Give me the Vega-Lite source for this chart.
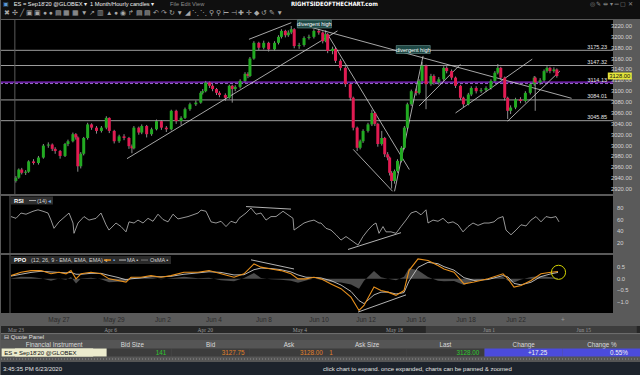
{
"$schema": "https://vega.github.io/schema/vega-lite/v6.json",
"background": "#5a5a5a",
"padding": 0,
"spacing": 0,
"config": {"view": {"stroke": null}, "font": "Liberation Sans"},
"datasets": {
"candles": [
{"t":0,"o":2935,"c":2941,"hi":2944,"lo":2932},{"t":3,"o":2941,"c":2956,"hi":2958,"lo":2939},{"t":6,"o":2956,"c":2950,"hi":2959,"lo":2947},{"t":10,"o":2950,"c":2952,"hi":2955,"lo":2946},{"t":13,"o":2952,"c":2971,"hi":2973,"lo":2950},{"t":18,"o":2971,"c":2968,"hi":2975,"lo":2965},{"t":23,"o":2968,"c":2978,"hi":2981,"lo":2965},{"t":28,"o":2978,"c":3000,"hi":3003,"lo":2976},{"t":33,"o":3000,"c":3002,"hi":3006,"lo":2996},{"t":37,"o":3002,"c":2994,"hi":3004,"lo":2990},{"t":40,"o":2994,"c":2990,"hi":2997,"lo":2985},{"t":45,"o":2990,"c":2981,"hi":2992,"lo":2976},{"t":50,"o":2981,"c":3003,"hi":3005,"lo":2979},{"t":53,"o":3003,"c":3008,"hi":3011,"lo":2999},{"t":58,"o":3008,"c":3021,"hi":3024,"lo":3006},{"t":61,"o":3021,"c":3015,"hi":3023,"lo":3011},{"t":63,"o":3015,"c":2962,"hi":3017,"lo":2952},{"t":66,"o":2962,"c":2985,"hi":2988,"lo":2958},{"t":69,"o":2985,"c":3014,"hi":3016,"lo":2982},{"t":73,"o":3014,"c":3039,"hi":3042,"lo":3011},{"t":77,"o":3039,"c":3033,"hi":3041,"lo":3029},{"t":82,"o":3033,"c":3027,"hi":3036,"lo":3022},{"t":87,"o":3027,"c":3033,"hi":3036,"lo":3024},{"t":92,"o":3033,"c":3051,"hi":3054,"lo":3030},{"t":95,"o":3051,"c":3027,"hi":3052,"lo":3023},{"t":100,"o":3027,"c":3008,"hi":3029,"lo":3004},{"t":105,"o":3008,"c":3017,"hi":3020,"lo":3005},{"t":110,"o":3017,"c":3014,"hi":3021,"lo":3010},{"t":115,"o":3014,"c":2999,"hi":3016,"lo":2994},{"t":118,"o":2999,"c":2995,"hi":3002,"lo":2986},{"t":120,"o":2995,"c":3033,"hi":3036,"lo":2993},{"t":125,"o":3033,"c":3024,"hi":3035,"lo":3020},{"t":128,"o":3024,"c":3036,"hi":3039,"lo":3021},{"t":133,"o":3036,"c":3021,"hi":3038,"lo":3015},{"t":138,"o":3021,"c":3030,"hi":3033,"lo":3018},{"t":143,"o":3030,"c":3045,"hi":3048,"lo":3028},{"t":148,"o":3045,"c":3033,"hi":3047,"lo":3029},{"t":153,"o":3033,"c":3030,"hi":3036,"lo":3025},{"t":158,"o":3030,"c":3064,"hi":3066,"lo":3028},{"t":163,"o":3064,"c":3045,"hi":3066,"lo":3040},{"t":168,"o":3045,"c":3051,"hi":3054,"lo":3038},{"t":172,"o":3051,"c":3067,"hi":3070,"lo":3049},{"t":177,"o":3067,"c":3076,"hi":3079,"lo":3064},{"t":183,"o":3076,"c":3079,"hi":3083,"lo":3073},{"t":188,"o":3079,"c":3097,"hi":3100,"lo":3077},{"t":190,"o":3097,"c":3100,"hi":3104,"lo":3094},{"t":193,"o":3100,"c":3116,"hi":3119,"lo":3098},{"t":197,"o":3116,"c":3110,"hi":3118,"lo":3106},{"t":200,"o":3110,"c":3104,"hi":3113,"lo":3100},{"t":204,"o":3104,"c":3097,"hi":3106,"lo":3093},{"t":207,"o":3097,"c":3093,"hi":3100,"lo":3089},{"t":213,"o":3093,"c":3088,"hi":3096,"lo":3082},{"t":217,"o":3088,"c":3110,"hi":3112,"lo":3086},{"t":220,"o":3110,"c":3104,"hi":3112,"lo":3079},{"t":223,"o":3104,"c":3108,"hi":3111,"lo":3100},{"t":228,"o":3108,"c":3119,"hi":3122,"lo":3105},{"t":233,"o":3119,"c":3132,"hi":3135,"lo":3116},{"t":236,"o":3132,"c":3128,"hi":3135,"lo":3124},{"t":238,"o":3128,"c":3160,"hi":3163,"lo":3126},{"t":242,"o":3160,"c":3189,"hi":3192,"lo":3158},{"t":247,"o":3189,"c":3180,"hi":3191,"lo":3176},{"t":252,"o":3180,"c":3189,"hi":3193,"lo":3177},{"t":257,"o":3189,"c":3177,"hi":3191,"lo":3173},{"t":263,"o":3177,"c":3189,"hi":3192,"lo":3175},{"t":267,"o":3189,"c":3200,"hi":3203,"lo":3186},{"t":270,"o":3200,"c":3211,"hi":3214,"lo":3197},{"t":274,"o":3211,"c":3203,"hi":3213,"lo":3199},{"t":277,"o":3203,"c":3208,"hi":3212,"lo":3200},{"t":280,"o":3208,"c":3214,"hi":3220,"lo":3205},{"t":283,"o":3214,"c":3183,"hi":3216,"lo":3179},{"t":288,"o":3183,"c":3185,"hi":3189,"lo":3178},{"t":293,"o":3185,"c":3198,"hi":3201,"lo":3182},{"t":298,"o":3198,"c":3200,"hi":3204,"lo":3195},{"t":303,"o":3200,"c":3211,"hi":3214,"lo":3197},{"t":308,"o":3211,"c":3208,"hi":3214,"lo":3204},{"t":312,"o":3208,"c":3192,"hi":3210,"lo":3188},{"t":315,"o":3192,"c":3205,"hi":3212,"lo":3190},{"t":317,"o":3205,"c":3174,"hi":3207,"lo":3170},{"t":322,"o":3174,"c":3178,"hi":3182,"lo":3168},{"t":325,"o":3178,"c":3156,"hi":3180,"lo":3152},{"t":330,"o":3156,"c":3143,"hi":3159,"lo":3138},{"t":335,"o":3143,"c":3113,"hi":3146,"lo":3108},{"t":340,"o":3113,"c":3088,"hi":3116,"lo":3083},{"t":343,"o":3088,"c":3033,"hi":3090,"lo":3028},{"t":347,"o":3033,"c":2996,"hi":3035,"lo":2990},{"t":350,"o":2996,"c":3008,"hi":3011,"lo":2993},{"t":353,"o":3008,"c":3027,"hi":3030,"lo":3005},{"t":358,"o":3027,"c":3039,"hi":3042,"lo":3024},{"t":362,"o":3039,"c":3060,"hi":3066,"lo":3036},{"t":365,"o":3060,"c":3040,"hi":3062,"lo":3036},{"t":368,"o":3040,"c":3003,"hi":3042,"lo":2998},{"t":372,"o":3003,"c":3014,"hi":3027,"lo":3000},{"t":375,"o":3014,"c":2984,"hi":3016,"lo":2979},{"t":378,"o":2984,"c":2978,"hi":2988,"lo":2973},{"t":380,"o":2978,"c":2950,"hi":2980,"lo":2945},{"t":382,"o":2950,"c":2935,"hi":2953,"lo":2921},{"t":385,"o":2935,"c":2953,"hi":2956,"lo":2930},{"t":388,"o":2953,"c":2972,"hi":2975,"lo":2950},{"t":392,"o":2972,"c":2996,"hi":2999,"lo":2969},{"t":395,"o":2996,"c":3033,"hi":3036,"lo":2993},{"t":398,"o":3033,"c":3076,"hi":3079,"lo":3030},{"t":402,"o":3076,"c":3100,"hi":3103,"lo":3073},{"t":407,"o":3100,"c":3097,"hi":3105,"lo":3092},{"t":410,"o":3097,"c":3119,"hi":3122,"lo":3094},{"t":413,"o":3119,"c":3147,"hi":3154,"lo":3116},{"t":417,"o":3147,"c":3113,"hi":3149,"lo":3067},{"t":422,"o":3113,"c":3128,"hi":3132,"lo":3110},{"t":425,"o":3128,"c":3116,"hi":3131,"lo":3112},{"t":430,"o":3116,"c":3122,"hi":3126,"lo":3112},{"t":435,"o":3122,"c":3143,"hi":3146,"lo":3119},{"t":438,"o":3143,"c":3137,"hi":3146,"lo":3133},{"t":443,"o":3137,"c":3125,"hi":3140,"lo":3121},{"t":447,"o":3125,"c":3110,"hi":3127,"lo":3106},{"t":452,"o":3110,"c":3088,"hi":3112,"lo":3084},{"t":455,"o":3088,"c":3076,"hi":3090,"lo":3071},{"t":460,"o":3076,"c":3094,"hi":3097,"lo":3074},{"t":463,"o":3094,"c":3106,"hi":3109,"lo":3091},{"t":468,"o":3106,"c":3100,"hi":3109,"lo":3096},{"t":473,"o":3100,"c":3102,"hi":3106,"lo":3097},{"t":478,"o":3102,"c":3106,"hi":3109,"lo":3099},{"t":483,"o":3106,"c":3119,"hi":3122,"lo":3103},{"t":487,"o":3119,"c":3134,"hi":3137,"lo":3116},{"t":490,"o":3134,"c":3143,"hi":3150,"lo":3131},{"t":493,"o":3143,"c":3125,"hi":3145,"lo":3121},{"t":497,"o":3125,"c":3088,"hi":3127,"lo":3083},{"t":500,"o":3088,"c":3064,"hi":3090,"lo":3049},{"t":503,"o":3064,"c":3070,"hi":3074,"lo":3058},{"t":508,"o":3070,"c":3085,"hi":3088,"lo":3067},{"t":513,"o":3085,"c":3082,"hi":3089,"lo":3078},{"t":518,"o":3082,"c":3097,"hi":3100,"lo":3079},{"t":523,"o":3097,"c":3113,"hi":3116,"lo":3094},{"t":527,"o":3113,"c":3125,"hi":3128,"lo":3110},{"t":528,"o":3125,"c":3116,"hi":3127,"lo":3064},{"t":533,"o":3116,"c":3120,"hi":3124,"lo":3112},{"t":537,"o":3120,"c":3137,"hi":3140,"lo":3117},{"t":540,"o":3137,"c":3143,"hi":3146,"lo":3134},{"t":543,"o":3143,"c":3137,"hi":3145,"lo":3133},{"t":547,"o":3137,"c":3140,"hi":3144,"lo":3134},{"t":550,"o":3140,"c":3128,"hi":3142,"lo":3125}
],
"levels": [{"p":3175.23},{"p":3147.32},{"p":3114.13},{"p":3084.01},{"p":3045.85}],
"pticks": [{"p":2920},{"p":2940},{"p":2960},{"p":2980},{"p":3000},{"p":3020},{"p":3040},{"p":3060},{"p":3080},{"p":3100},{"p":3120},{"p":3140},{"p":3160},{"p":3180},{"p":3200},{"p":3220}],
"tlines": [
{"t1":113,"p1":2976,"t2":327,"p2":3211},{"t1":237,"p1":3195.5,"t2":280,"p2":3226},{"t1":293,"p1":3221,"t2":565,"p2":3087},{"t1":318,"p1":3201.6,"t2":400,"p2":2956},{"t1":343,"p1":2993,"t2":383,"p2":2916},{"t1":385,"p1":2916,"t2":414,"p2":3165},{"t1":410,"p1":3073,"t2":452,"p2":3149.5},{"t1":447,"p1":3060,"t2":525,"p2":3159},{"t1":500,"p1":3045,"t2":553,"p2":3137}
],
"notes": [{"t":303.5,"p":3223.6,"txt":"divergent high"},{"t":404,"p":3176.7,"txt":"divergent high"}],
"rsi": [
{"t":0,"r":65},{"t":5,"r":62},{"t":10,"r":71},{"t":15,"r":69},{"t":22,"r":74},{"t":27,"r":76.5},{"t":32,"r":74},{"t":37,"r":71},{"t":40,"r":59},{"t":43,"r":45},{"t":48,"r":56},{"t":52,"r":62},{"t":58,"r":71},{"t":62,"r":54},{"t":63,"r":36.5},{"t":67,"r":54},{"t":73,"r":65},{"t":78,"r":59},{"t":85,"r":62},{"t":90,"r":71},{"t":95,"r":51},{"t":98,"r":42},{"t":105,"r":54},{"t":110,"r":48},{"t":115,"r":39},{"t":118,"r":56},{"t":123,"r":54},{"t":127,"r":59},{"t":132,"r":54},{"t":137,"r":62},{"t":142,"r":57},{"t":147,"r":69},{"t":152,"r":60},{"t":157,"r":56},{"t":162,"r":69},{"t":167,"r":61},{"t":172,"r":63},{"t":177,"r":65},{"t":182,"r":68},{"t":187,"r":71},{"t":190,"r":76},{"t":195,"r":74},{"t":200,"r":56},{"t":205,"r":54},{"t":210,"r":57},{"t":215,"r":48},{"t":220,"r":57},{"t":225,"r":54},{"t":228,"r":62},{"t":235,"r":71},{"t":240,"r":79.5},{"t":245,"r":69},{"t":250,"r":71},{"t":255,"r":59},{"t":260,"r":65},{"t":265,"r":65},{"t":272,"r":74},{"t":277,"r":68},{"t":282,"r":62},{"t":283,"r":42},{"t":288,"r":48},{"t":293,"r":54},{"t":298,"r":57},{"t":303,"r":59},{"t":308,"r":54},{"t":310,"r":54},{"t":315,"r":45},{"t":320,"r":42},{"t":325,"r":34},{"t":330,"r":25},{"t":335,"r":31},{"t":340,"r":25},{"t":347,"r":16.5},{"t":352,"r":31},{"t":357,"r":42},{"t":362,"r":51},{"t":365,"r":54},{"t":368,"r":36.5},{"t":372,"r":48},{"t":375,"r":39},{"t":380,"r":39},{"t":385,"r":36.5},{"t":390,"r":48},{"t":395,"r":59},{"t":400,"r":71},{"t":405,"r":74},{"t":410,"r":68},{"t":415,"r":76.5},{"t":417,"r":54},{"t":422,"r":59},{"t":427,"r":57},{"t":432,"r":62},{"t":437,"r":54},{"t":442,"r":56},{"t":447,"r":51},{"t":452,"r":39},{"t":457,"r":48},{"t":462,"r":54},{"t":467,"r":50},{"t":473,"r":54},{"t":478,"r":54},{"t":483,"r":56},{"t":487,"r":62},{"t":492,"r":65},{"t":495,"r":42},{"t":500,"r":34},{"t":505,"r":42},{"t":510,"r":51},{"t":515,"r":49},{"t":520,"r":59},{"t":525,"r":65},{"t":530,"r":56},{"t":535,"r":65},{"t":540,"r":63},{"t":545,"r":65},{"t":548,"r":56}
],
"rticks": [{"r":20},{"r":40},{"r":60},{"r":80}],
"rsilines": [{"t1":235,"r1":82,"t2":280,"r2":77.7},{"t1":337,"r1":9,"t2":390,"r2":37.6}],
"ppo": [
{"t":0,"ppo":0.14,"sig":0.12,"hist":0.02},{"t":10,"ppo":0.29,"sig":0.2,"hist":0.09},{"t":20,"ppo":0.36,"sig":0.28,"hist":0.08},{"t":30,"ppo":0.36,"sig":0.33,"hist":0.03},{"t":40,"ppo":0.22,"sig":0.3,"hist":-0.08},{"t":48,"ppo":0.29,"sig":0.28,"hist":0.01},{"t":55,"ppo":0.22,"sig":0.26,"hist":-0.04},{"t":60,"ppo":0.36,"sig":0.28,"hist":0.08},{"t":65,"ppo":0.0,"sig":0.2,"hist":-0.2},{"t":70,"ppo":0.22,"sig":0.2,"hist":0.02},{"t":80,"ppo":0.29,"sig":0.24,"hist":0.05},{"t":90,"ppo":0.22,"sig":0.24,"hist":-0.02},{"t":98,"ppo":0.0,"sig":0.15,"hist":-0.15},{"t":107,"ppo":-0.07,"sig":0.06,"hist":-0.13},{"t":115,"ppo":-0.14,"sig":-0.04,"hist":-0.1},{"t":120,"ppo":0.07,"sig":0.0,"hist":0.07},{"t":130,"ppo":0.07,"sig":0.04,"hist":0.03},{"t":140,"ppo":0.14,"sig":0.09,"hist":0.05},{"t":150,"ppo":0.07,"sig":0.09,"hist":-0.02},{"t":160,"ppo":0.14,"sig":0.11,"hist":0.03},{"t":173,"ppo":0.29,"sig":0.2,"hist":0.09},{"t":187,"ppo":0.29,"sig":0.26,"hist":0.03},{"t":198,"ppo":0.36,"sig":0.31,"hist":0.05},{"t":210,"ppo":0.22,"sig":0.28,"hist":-0.06},{"t":223,"ppo":0.07,"sig":0.17,"hist":-0.1},{"t":233,"ppo":0.22,"sig":0.18,"hist":0.04},{"t":243,"ppo":0.65,"sig":0.4,"hist":0.25},{"t":250,"ppo":0.51,"sig":0.47,"hist":0.04},{"t":260,"ppo":0.43,"sig":0.45,"hist":-0.02},{"t":270,"ppo":0.36,"sig":0.4,"hist":-0.04},{"t":280,"ppo":0.22,"sig":0.3,"hist":-0.08},{"t":287,"ppo":0.0,"sig":0.17,"hist":-0.17},{"t":295,"ppo":0.0,"sig":0.07,"hist":-0.07},{"t":303,"ppo":0.07,"sig":0.06,"hist":0.01},{"t":310,"ppo":0.0,"sig":0.04,"hist":-0.04},{"t":320,"ppo":-0.22,"sig":-0.08,"hist":-0.14},{"t":330,"ppo":-0.43,"sig":-0.27,"hist":-0.16},{"t":340,"ppo":-0.8,"sig":-0.55,"hist":-0.25},{"t":348,"ppo":-1.38,"sig":-0.95,"hist":-0.43},{"t":353,"ppo":-1.16,"sig":-1.08,"hist":-0.08},{"t":363,"ppo":-0.36,"sig":-0.7,"hist":0.34},{"t":370,"ppo":-0.51,"sig":-0.58,"hist":0.07},{"t":377,"ppo":-0.58,"sig":-0.58,"hist":0.0},{"t":385,"ppo":-0.72,"sig":-0.66,"hist":-0.06},{"t":393,"ppo":-0.51,"sig":-0.6,"hist":0.09},{"t":398,"ppo":0.36,"sig":-0.1,"hist":0.46},{"t":407,"ppo":0.87,"sig":0.5,"hist":0.37},{"t":417,"ppo":0.8,"sig":0.72,"hist":0.08},{"t":427,"ppo":0.58,"sig":0.66,"hist":-0.08},{"t":433,"ppo":0.43,"sig":0.53,"hist":-0.1},{"t":443,"ppo":0.29,"sig":0.38,"hist":-0.09},{"t":453,"ppo":-0.22,"sig":0.05,"hist":-0.27},{"t":463,"ppo":-0.14,"sig":-0.07,"hist":-0.07},{"t":477,"ppo":0.0,"sig":-0.03,"hist":0.03},{"t":492,"ppo":0.22,"sig":0.14,"hist":0.08},{"t":497,"ppo":0.0,"sig":0.08,"hist":-0.08},{"t":503,"ppo":-0.36,"sig":-0.2,"hist":-0.16},{"t":510,"ppo":-0.29,"sig":-0.26,"hist":-0.03},{"t":520,"ppo":-0.07,"sig":-0.15,"hist":0.08},{"t":530,"ppo":0.22,"sig":0.1,"hist":0.12},{"t":540,"ppo":0.29,"sig":0.22,"hist":0.07},{"t":547,"ppo":0.32,"sig":0.28,"hist":0.04}
],
"vticks": [{"v":-1},{"v":-0.5},{"v":0},{"v":0.5}],
"ppolines": [{"t1":240,"v1":0.83,"t2":283,"v2":0.43},{"t1":347,"v1":-1.45,"t2":395,"v2":-0.7}],
"days": [{"t":48,"lbl":"May 27"},{"t":103,"lbl":"May 29"},{"t":152,"lbl":"Jun 2"},{"t":203,"lbl":"Jun 4"},{"t":253,"lbl":"Jun 8"},{"t":308,"lbl":"Jun 10"},{"t":355,"lbl":"Jun 12"},{"t":405,"lbl":"Jun 16"},{"t":455,"lbl":"Jun 18"},{"t":505,"lbl":"Jun 22"}],
"nav": [{"d":"2020-03-23T00:00:00","lbl":"Mar 23"},{"d":"2020-04-06T00:00:00","lbl":"Apr 6"},{"d":"2020-04-20T00:00:00","lbl":"Apr 20"},{"d":"2020-05-04T00:00:00","lbl":"May 4"},{"d":"2020-05-18T00:00:00","lbl":"May 18"},{"d":"2020-06-01T00:00:00","lbl":"Jun 1"},{"d":"2020-06-15T00:00:00","lbl":"Jun 15"}],
"quote": [{"c":"Financial Instrument","v":"ES = Sep18'20 @GLOBEX"},{"c":"Bid Size","v":"141"},{"c":"Bid","v":"3127.75"},{"c":"Ask","v":"3128.00"},{"c":"Ask Size","v":"1"},{"c":"Last","v":"3128.00"},{"c":"Change","v":"+17.25"},{"c":"Change %","v":"0.55%"}],
"status": [{"k":"a","txt":"3:45:35 PM 6/23/2020"},{"k":"b","txt":"click chart to expand. once expanded, charts can be panned & zoomed"}]
},
"vconcat": [
{
"width": 640, "height": 19,
"view": {"fill": "#0f0f0f"},
"data": {"values": [{}]},
"layer": [
{"mark": {"type": "text", "text": "▣", "align": "left", "baseline": "middle", "fontSize": 6, "color": "#5b9bd5"},
 "encoding": {"x": {"datum": 0.3, "scale": {"domain": [0, 100]}, "axis": null}, "y": {"datum": 4.5, "scale": {"domain": [0, 19], "reverse": true}, "axis": null}}},
{"mark": {"type": "text", "text": "ES = Sep18'20 @GLOBEX ▾", "align": "left", "baseline": "middle", "fontSize": 5.7, "color": "#f0f0f0"},
 "encoding": {"x": {"datum": 2.0, "axis": null}, "y": {"datum": 4.5, "axis": null}}},
{"mark": {"type": "text", "text": "1 Month/Hourly candles ▾", "align": "left", "baseline": "middle", "fontSize": 5.7, "color": "#f0f0f0"},
 "encoding": {"x": {"datum": 13.9, "axis": null}, "y": {"datum": 4.5, "axis": null}}},
{"mark": {"type": "text", "text": "File   Edit   View", "align": "left", "baseline": "middle", "fontSize": 5.7, "color": "#8e8e8e"},
 "encoding": {"x": {"datum": 26.4, "axis": null}, "y": {"datum": 4.5, "axis": null}}},
{"mark": {"type": "text", "text": "RIGHTSIDEOFTHECHART.com", "align": "left", "baseline": "middle", "fontSize": 6, "fontWeight": "bold", "font": "Liberation Sans Narrow, DejaVu Sans Condensed, Liberation Sans", "color": "#ffffff"},
 "encoding": {"x": {"datum": 45.3, "axis": null}, "y": {"datum": 4.5, "axis": null}}},
{"mark": {"type": "text", "text": "◎ ✎ ⇹ ▾  ═ ▢ ✕", "align": "left", "baseline": "middle", "fontSize": 6, "color": "#8a8a8a"},
 "encoding": {"x": {"datum": 92.0, "axis": null}, "y": {"datum": 4.5, "axis": null}}},
{"mark": {"type": "text", "text": "✖ ✣ ╱ ▣ ▣ ● ● ▤   ▦ ▦  ▼   ↗ ▥  ▲ ●  ◉ ↱ ▤ ▤ ↶ ↷ ↻   ▼  ◢ ⋱ ⋱   ⚲ ⚲ ⊢ ⊣ ✚ ✛   ◆ ↺ ✎   ▼", "align": "left", "baseline": "middle", "fontSize": 6.5, "color": "#a8a8a8"},
 "encoding": {"x": {"datum": 0.5, "axis": null}, "y": {"datum": 13.5, "axis": null}}}
]
},
{
"width": 612, "height": 174,
"view": {"fill": "#000000"},
"layer": [
{"data": {"name": "candles"},
 "mark": {"type": "rule", "color": "#8c8c8c", "strokeWidth": 1},
 "encoding": {
  "x": {"field": "t", "type": "quantitative", "scale": {"domain": [-10, 602], "nice": false, "zero": false},
        "axis": {"orient": "bottom", "labels": false, "ticks": false, "domain": false, "grid": false, "title": null, "minExtent": 3, "maxExtent": 3}},
  "y": {"field": "lo", "type": "quantitative", "scale": {"domain": [2911, 3231], "nice": false, "zero": false}, "axis": null},
  "y2": {"field": "hi"}
 }},
{"data": {"name": "levels"},
 "transform": [{"filter": "datum.p != 3114.13"}],
 "mark": {"type": "rule", "color": "#9c9c9c", "strokeWidth": 1},
 "encoding": {"y": {"field": "p", "type": "quantitative", "axis": null}}},
{"data": {"name": "levels"},
 "transform": [{"filter": "datum.p == 3114.13"}],
 "mark": {"type": "rule", "color": "#9a6ac8", "strokeWidth": 1, "strokeDash": [3, 2]},
 "encoding": {"y": {"field": "p", "type": "quantitative", "axis": null}}},
{"data": {"values": [{}]},
 "mark": {"type": "rule", "color": "#8e2bd6", "strokeWidth": 1.3},
 "encoding": {"y": {"datum": 3116.6, "axis": null}}},
{"data": {"name": "tlines"},
 "mark": {"type": "rule", "color": "#d0d0d0", "strokeWidth": 0.8},
 "encoding": {"x": {"field": "t1", "type": "quantitative", "axis": null}, "y": {"field": "p1", "type": "quantitative", "axis": null}, "x2": {"field": "t2"}, "y2": {"field": "p2"}}},
{"data": {"name": "candles"},
 "mark": {"type": "bar", "size": 3},
 "encoding": {
  "x": {"field": "t", "type": "quantitative", "axis": null},
  "y": {"field": "o", "type": "quantitative", "scale": {"zero": false}, "axis": null},
  "y2": {"field": "c"},
  "color": {"condition": {"test": "datum.c >= datum.o", "value": "#22aa22"}, "value": "#e01b52"}
 }},
{"data": {"name": "levels"},
 "mark": {"type": "text", "align": "right", "baseline": "bottom", "dy": -0.5, "fontSize": 5.5, "color": "#e6e6e6"},
 "encoding": {"x": {"datum": 601, "axis": null}, "y": {"field": "p", "type": "quantitative", "axis": null}, "text": {"field": "p", "type": "quantitative", "format": ".2f"}}},
{"data": {"name": "notes"},
 "mark": {"type": "point", "shape": "M-1,-0.235H1V0.235H-1Z", "size": 1156, "filled": true, "fill": "#1d4845", "stroke": "#7fa8a5", "strokeWidth": 0.5, "opacity": 1},
 "encoding": {"x": {"field": "t", "type": "quantitative", "axis": null}, "y": {"field": "p", "type": "quantitative", "axis": null}}},
{"data": {"name": "notes"},
 "mark": {"type": "text", "fontSize": 5.5, "color": "#ffffff", "baseline": "middle", "align": "center"},
 "encoding": {"x": {"field": "t", "type": "quantitative", "axis": null}, "y": {"field": "p", "type": "quantitative", "axis": null}, "text": {"field": "txt"}}},
{"data": {"values": [{}]},
 "mark": {"type": "rule", "color": "#5a5a5a"},
 "encoding": {"x": {"datum": -1, "axis": null}}},
{"data": {"name": "pticks"},
 "mark": {"type": "text", "align": "left", "baseline": "middle", "fontSize": 5.8, "color": "#d4d4d4"},
 "encoding": {"x": {"datum": 605, "axis": null}, "y": {"field": "p", "type": "quantitative", "axis": null}, "text": {"field": "p", "type": "quantitative", "format": ".2f"}}},
{"data": {"values": [{}]},
 "mark": {"type": "point", "shape": "M-1,-0.29H1V0.29H-1Z", "size": 576, "filled": true, "fill": "#e4e43a", "opacity": 1},
 "encoding": {"x": {"datum": 614, "axis": null}, "y": {"datum": 3128, "axis": null}}},
{"data": {"values": [{}]},
 "mark": {"type": "text", "text": "3128.00", "fontSize": 5.8, "color": "#111111", "baseline": "middle", "align": "center"},
 "encoding": {"x": {"datum": 614, "axis": null}, "y": {"datum": 3128, "axis": null}}}
]
},
{
"width": 612, "height": 57,
"view": {"fill": "#000000"},
"layer": [
{"data": {"name": "rsi"},
 "mark": {"type": "line", "color": "#bdbdbd", "strokeWidth": 0.8},
 "encoding": {
  "x": {"field": "t", "type": "quantitative", "scale": {"domain": [-10, 602], "nice": false, "zero": false},
        "axis": {"orient": "bottom", "labels": false, "ticks": false, "domain": false, "grid": false, "title": null, "minExtent": 3, "maxExtent": 3}},
  "y": {"field": "r", "type": "quantitative", "scale": {"domain": [3, 100], "nice": false, "zero": false}, "axis": null}
 }},
{"data": {"name": "rsilines"},
 "mark": {"type": "rule", "color": "#e0e0e0", "strokeWidth": 0.8},
 "encoding": {"x": {"field": "t1", "type": "quantitative", "axis": null}, "y": {"field": "r1", "type": "quantitative", "axis": null}, "x2": {"field": "t2"}, "y2": {"field": "r2"}}},
{"data": {"values": [{}]},
 "mark": {"type": "rule", "color": "#5a5a5a"},
 "encoding": {"x": {"datum": -1, "axis": null}}},
{"data": {"name": "rticks"},
 "mark": {"type": "text", "align": "left", "baseline": "middle", "fontSize": 5.8, "color": "#d4d4d4"},
 "encoding": {"x": {"datum": 606, "axis": null}, "y": {"field": "r", "type": "quantitative", "axis": null}, "text": {"field": "r", "type": "quantitative", "format": "d"}}},
{"data": {"values": [{}]},
 "mark": {"type": "point", "shape": "M-1,-0.19H1V0.19H-1Z", "size": 1764, "filled": true, "fill": "#2e2e2e", "opacity": 1},
 "encoding": {"x": {"datum": 21, "axis": null}, "y": {"datum": 92.3, "axis": null}}},
{"data": {"values": [{}]},
 "mark": {"type": "text", "text": "RSI", "fontSize": 5.8, "fontWeight": "bold", "color": "#ffffff", "align": "left", "baseline": "middle"},
 "encoding": {"x": {"datum": 3, "axis": null}, "y": {"datum": 92.3, "axis": null}}},
{"data": {"values": [{}]},
 "mark": {"type": "rule", "color": "#aaaaaa", "strokeWidth": 1},
 "encoding": {"x": {"datum": 18, "axis": null}, "x2": {"datum": 25}, "y": {"datum": 92.3, "axis": null}}},
{"data": {"values": [{}]},
 "mark": {"type": "text", "text": "(14)", "fontSize": 5.5, "color": "#cfcfcf", "align": "left", "baseline": "middle"},
 "encoding": {"x": {"datum": 26, "axis": null}, "y": {"datum": 92.3, "axis": null}}},
{"data": {"values": [{}]},
 "mark": {"type": "text", "text": "◂", "fontSize": 5.5, "color": "#6aa8e8", "align": "left", "baseline": "middle"},
 "encoding": {"x": {"datum": 37, "axis": null}, "y": {"datum": 92.3, "axis": null}}}
]
},
{
"width": 612, "height": 58,
"view": {"fill": "#000000"},
"layer": [
{"data": {"name": "ppo"},
 "mark": {"type": "area", "color": "#4b4b4b"},
 "encoding": {
  "x": {"field": "t", "type": "quantitative", "scale": {"domain": [-10, 602], "nice": false, "zero": false}, "axis": null},
  "y": {"field": "hist", "type": "quantitative", "scale": {"domain": [-1.49, 1.04], "nice": false, "zero": false}, "axis": null},
  "y2": {"datum": 0}
 }},
{"data": {"name": "ppo"},
 "mark": {"type": "line", "color": "#c8c8c8", "strokeWidth": 0.9},
 "encoding": {"x": {"field": "t", "type": "quantitative", "axis": null}, "y": {"field": "sig", "type": "quantitative", "axis": null}}},
{"data": {"name": "ppo"},
 "mark": {"type": "line", "color": "#e8901c", "strokeWidth": 1.1},
 "encoding": {"x": {"field": "t", "type": "quantitative", "axis": null}, "y": {"field": "ppo", "type": "quantitative", "axis": null}}},
{"data": {"name": "ppolines"},
 "mark": {"type": "rule", "color": "#e0e0e0", "strokeWidth": 0.8},
 "encoding": {"x": {"field": "t1", "type": "quantitative", "axis": null}, "y": {"field": "v1", "type": "quantitative", "axis": null}, "x2": {"field": "t2"}, "y2": {"field": "v2"}}},
{"data": {"values": [{}]},
 "mark": {"type": "point", "shape": "circle", "size": 200, "filled": false, "stroke": "#d4d400", "strokeWidth": 1, "opacity": 1},
 "encoding": {"x": {"datum": 547.5, "axis": null}, "y": {"datum": 0.285, "axis": null}}},
{"data": {"values": [{}]},
 "mark": {"type": "rule", "color": "#5a5a5a"},
 "encoding": {"x": {"datum": -1, "axis": null}}},
{"data": {"name": "vticks"},
 "mark": {"type": "text", "align": "left", "baseline": "middle", "fontSize": 5.8, "color": "#d4d4d4"},
 "encoding": {"x": {"datum": 606, "axis": null}, "y": {"field": "v", "type": "quantitative", "axis": null}, "text": {"field": "v", "type": "quantitative", "format": ".1f"}}},
{"data": {"values": [{}]},
 "mark": {"type": "point", "shape": "M-1,-0.05H1V0.05H-1Z", "size": 25600, "filled": true, "fill": "#2a2a2a", "opacity": 1},
 "encoding": {"x": {"datum": 80, "axis": null}, "y": {"datum": 0.82, "axis": null}}},
{"data": {"values": [{}]},
 "mark": {"type": "text", "text": "PPO", "fontSize": 5.8, "fontWeight": "bold", "color": "#ffffff", "align": "left", "baseline": "middle"},
 "encoding": {"x": {"datum": 3, "axis": null}, "y": {"datum": 0.82, "axis": null}}},
{"data": {"values": [{}]},
 "mark": {"type": "text", "text": "(12, 26, 9 - EMA, EMA, EMA) ◂", "fontSize": 5.5, "color": "#cfcfcf", "align": "left", "baseline": "middle"},
 "encoding": {"x": {"datum": 20, "axis": null}, "y": {"datum": 0.82, "axis": null}}},
{"data": {"values": [{}]},
 "mark": {"type": "rule", "color": "#e8901c", "strokeWidth": 1.5},
 "encoding": {"x": {"datum": 93, "axis": null}, "x2": {"datum": 100}, "y": {"datum": 0.82, "axis": null}}},
{"data": {"values": [{}]},
 "mark": {"type": "text", "text": "▪", "fontSize": 6, "color": "#6aa8e8", "align": "left", "baseline": "middle"},
 "encoding": {"x": {"datum": 102, "axis": null}, "y": {"datum": 0.82, "axis": null}}},
{"data": {"values": [{}]},
 "mark": {"type": "rule", "color": "#bdbdbd", "strokeWidth": 1},
 "encoding": {"x": {"datum": 108, "axis": null}, "x2": {"datum": 115}, "y": {"datum": 0.82, "axis": null}}},
{"data": {"values": [{}]},
 "mark": {"type": "text", "text": "MA ▪", "fontSize": 5.5, "color": "#cfcfcf", "align": "left", "baseline": "middle"},
 "encoding": {"x": {"datum": 116, "axis": null}, "y": {"datum": 0.82, "axis": null}}},
{"data": {"values": [{}]},
 "mark": {"type": "rule", "color": "#777777", "strokeWidth": 1},
 "encoding": {"x": {"datum": 130, "axis": null}, "x2": {"datum": 137}, "y": {"datum": 0.82, "axis": null}}},
{"data": {"values": [{}]},
 "mark": {"type": "text", "text": "OsMA ▪", "fontSize": 5.5, "color": "#cfcfcf", "align": "left", "baseline": "middle"},
 "encoding": {"x": {"datum": 139, "axis": null}, "y": {"datum": 0.82, "axis": null}}}
]
},
{
"width": 612, "height": 12,
"view": {"fill": "#5a5a5a"},
"layer": [
{"data": {"name": "days"},
 "mark": {"type": "text", "fontSize": 6.5, "color": "#2a2a2a", "baseline": "middle", "align": "center"},
 "encoding": {"x": {"field": "t", "type": "quantitative", "scale": {"domain": [-10, 602], "nice": false, "zero": false}, "axis": null}, "y": {"datum": 0.5, "scale": {"domain": [0, 1]}, "axis": null}, "text": {"field": "lbl"}}},
{"data": {"values": [{}]},
 "mark": {"type": "text", "text": "+", "fontSize": 6.5, "color": "#9a9a9a", "baseline": "middle", "align": "center"},
 "encoding": {"x": {"datum": 552, "axis": null}, "y": {"datum": 0.5, "axis": null}}}
]
},
{
"width": 640, "height": 7,
"view": {"fill": "#262626"},
"layer": [
{"data": {"values": [{}]},
 "mark": {"type": "rect", "color": "#3d3d3d"},
 "encoding": {
  "x": {"datum": {"year": 2020, "month": 5, "date": 22, "hours": 15}, "type": "temporal", "scale": {"domain": [{"year": 2020, "month": 3, "date": 20, "hours": 18, "minutes": 40}, {"year": 2020, "month": 6, "date": 23, "hours": 11}]}, "axis": null},
  "x2": {"datum": {"year": 2020, "month": 6, "date": 22, "hours": 20}}
 }},
{"data": {"name": "nav"},
 "mark": {"type": "text", "fontSize": 5.5, "color": "#9a9a9a", "font": "Liberation Serif", "baseline": "middle"},
 "encoding": {"x": {"field": "d", "type": "temporal", "axis": null}, "y": {"datum": 0.5, "scale": {"domain": [0, 1]}, "axis": null}, "text": {"field": "lbl"}}}
]
},
{
"width": 640, "height": 29,
"view": {"fill": "#555555"},
"layer": [
{"data": {"values": [{}]},
 "mark": {"type": "rect", "color": "#4a4a4a"},
 "encoding": {"y": {"datum": 0, "scale": {"domain": [0, 29], "reverse": true, "nice": false, "zero": false}, "axis": null}, "y2": {"datum": 7}}},
{"data": {"values": [{}]},
 "mark": {"type": "rule", "color": "#8a8a8a", "strokeWidth": 0.6},
 "encoding": {"y": {"datum": 0.6, "axis": null}}},
{"data": {"values": [{}]},
 "mark": {"type": "text", "text": "⊟ Quote Panel", "fontSize": 6, "color": "#e0e0e0", "align": "left", "baseline": "middle", "dx": -50},
 "encoding": {"x": {"datum": "Financial Instrument", "type": "nominal", "scale": {"domain": ["Financial Instrument","Bid Size","Bid","Ask","Ask Size","Last","Change","Change %"], "range": [14, 640], "paddingInner": 0, "paddingOuter": 0}, "axis": null}, "y": {"datum": 3.7, "axis": null}}},
{"data": {"name": "quote"},
 "mark": {"type": "text", "fontSize": 6.3, "color": "#dadada", "align": "center", "baseline": "middle"},
 "encoding": {"x": {"field": "c", "type": "nominal", "sort": null, "axis": null}, "y": {"datum": 11.5, "axis": null}, "text": {"field": "c"}}},
{"data": {"name": "quote"},
 "mark": {"type": "rect"},
 "encoding": {"x": {"field": "c", "type": "nominal", "sort": null, "axis": null}, "y": {"datum": 15.5, "axis": null}, "y2": {"datum": 23.5},
  "fill": {"field": "c", "type": "nominal", "legend": null, "scale": {"domain": ["Financial Instrument","Bid Size","Bid","Ask","Ask Size","Last","Change","Change %"], "range": ["#ecebcd","#3c3c3c","#3c3c3c","#3c3c3c","#3c3c3c","#3c3c3c","#4b4bdc","#4b4bdc"]}}}},
{"data": {"name": "quote"},
 "transform": [{"filter": "datum.c == 'Financial Instrument'"}],
 "mark": {"type": "rect", "width": 105, "color": "#ecebcd"},
 "encoding": {"x": {"field": "c", "type": "nominal", "sort": null, "axis": null}, "y": {"datum": 15.5, "axis": null}, "y2": {"datum": 23.5}}},
{"data": {"name": "quote"},
 "transform": [{"filter": "datum.c == 'Financial Instrument'"}],
 "mark": {"type": "text", "fontSize": 6, "color": "#111111", "align": "left", "baseline": "middle", "dx": -50},
 "encoding": {"x": {"field": "c", "type": "nominal", "sort": null, "axis": null}, "y": {"datum": 19.5, "axis": null}, "text": {"field": "v"}}},
{"data": {"name": "quote"},
 "transform": [{"filter": "datum.c == 'Ask Size'"}],
 "mark": {"type": "text", "fontSize": 6.3, "color": "#e0802a", "align": "left", "baseline": "middle", "dx": -38},
 "encoding": {"x": {"field": "c", "type": "nominal", "sort": null, "axis": null}, "y": {"datum": 19.5, "axis": null}, "text": {"field": "v"}}},
{"data": {"name": "quote"},
 "transform": [{"filter": "indexof(['Bid Size','Bid','Ask','Last'], datum.c) >= 0"}],
 "mark": {"type": "text", "fontSize": 6.3, "align": "right", "baseline": "middle", "dx": 34},
 "encoding": {"x": {"field": "c", "type": "nominal", "sort": null, "axis": null}, "y": {"datum": 19.5, "axis": null}, "text": {"field": "v"},
  "color": {"field": "c", "type": "nominal", "legend": null, "scale": {"domain": ["Bid Size","Bid","Ask","Last"], "range": ["#2ec82e","#e0802a","#e0802a","#2ec82e"]}}}},
{"data": {"name": "quote"},
 "transform": [{"filter": "datum.c == 'Change'"}],
 "mark": {"type": "text", "fontSize": 6.3, "color": "#f2f2f2", "align": "center", "baseline": "middle", "dx": 14},
 "encoding": {"x": {"field": "c", "type": "nominal", "sort": null, "axis": null}, "y": {"datum": 19.5, "axis": null}, "text": {"field": "v"}}},
{"data": {"name": "quote"},
 "transform": [{"filter": "datum.c == 'Change %'"}],
 "mark": {"type": "text", "fontSize": 6.3, "color": "#f2f2f2", "align": "right", "baseline": "middle", "dx": 26},
 "encoding": {"x": {"field": "c", "type": "nominal", "sort": null, "axis": null}, "y": {"datum": 19.5, "axis": null}, "text": {"field": "v"}}},
{"data": {"values": [{}]},
 "mark": {"type": "rule", "color": "#9a9a9a", "strokeWidth": 0.8, "strokeDash": [1, 2]},
 "encoding": {"y": {"datum": 26, "axis": null}}}
]
},
{
"width": 640, "height": 13,
"view": {"fill": "#1d232c"},
"data": {"name": "status"},
"mark": {"type": "text", "fontSize": 6, "color": "#e2e2e2", "align": "left", "baseline": "middle", "dx": 2},
"encoding": {
 "x": {"field": "k", "type": "nominal", "scale": {"type": "point", "domain": ["a", "b", "z"], "padding": 0}, "axis": null},
 "y": {"datum": 0.5, "scale": {"domain": [0, 1]}, "axis": null},
 "text": {"field": "txt"}
}
}
]
}
